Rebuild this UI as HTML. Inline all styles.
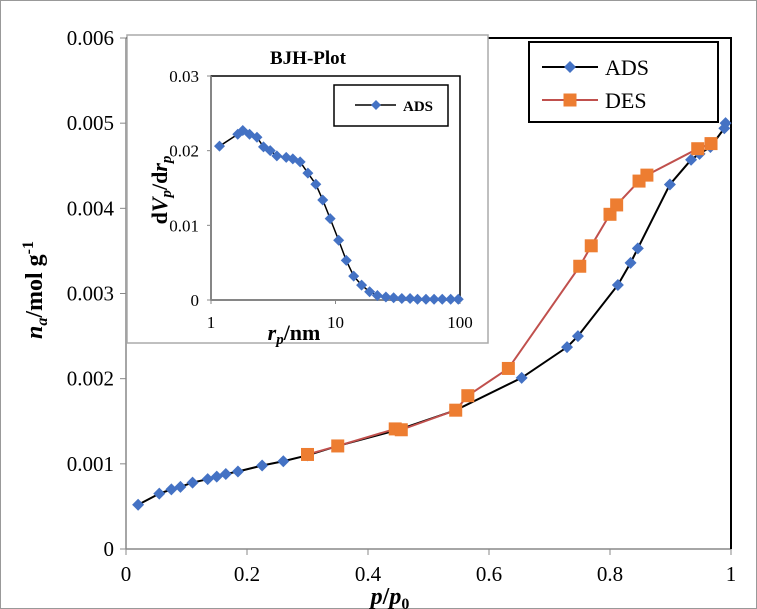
<!DOCTYPE html>
<html><head><meta charset="utf-8"><style>
html,body{margin:0;padding:0;background:#fff;}
svg{display:block;font-family:"Liberation Serif",serif;}
</style></head><body>
<svg id="chart" width="757" height="609">
<rect x="0.5" y="0.5" width="756" height="608" fill="#fff" stroke="#999"/>
<g id="main"></g>
<g id="inset"></g>
</svg>
<script>
const adsP=[0.02,0.055,0.075,0.09,0.11,0.135,0.15,0.165,0.185,0.225,0.26,0.30,0.35,0.45,0.545,0.654,0.729,0.747,0.813,0.834,0.846,0.899,0.934,0.948,0.966,0.989,0.991];
const adsN=[0.00052,0.00065,0.0007,0.00073,0.00078,0.00082,0.00085,0.00088,0.00091,0.00098,0.00103,0.0011,0.00121,0.0014,0.00163,0.00201,0.00237,0.0025,0.0031,0.00336,0.00353,0.00428,0.00457,0.00464,0.00472,0.00494,0.005];
const desP=[0.30,0.35,0.445,0.455,0.545,0.565,0.632,0.750,0.769,0.800,0.811,0.848,0.861,0.945,0.967];
const desN=[0.00111,0.00121,0.00141,0.0014,0.00163,0.0018,0.00212,0.00332,0.00356,0.00393,0.00404,0.00432,0.00439,0.0047,0.00476];
const xTicks=["0","0.2","0.4","0.6","0.8","1"];
const yTicks=["0","0.001","0.002","0.003","0.004","0.005","0.006"];
const bjhR=[1.17,1.64,1.80,2.04,2.34,2.64,2.99,3.38,4.02,4.54,5.20,6.0,6.95,7.9,9.06,10.6,12.2,14.0,16.2,18.8,21.7,25.4,29.3,34.1,39.7,45.6,53.3,61.9,72.0,84.2,96.8];
const bjhV=[0.0206,0.0222,0.0227,0.0222,0.0218,0.0205,0.0200,0.0193,0.0191,0.0189,0.0185,0.0170,0.0155,0.0134,0.0109,0.0080,0.0053,0.0032,0.0020,0.0011,0.0006,0.0004,0.0003,0.0002,0.0002,0.0001,0.0001,0.0001,0.0001,0.0001,0.0001];
const insetX=["1","10","100"];
const insetY=["0","0.01","0.02","0.03"];

const NS="http://www.w3.org/2000/svg";
function mk(parent,tag,attrs,text){const e=document.createElementNS(NS,tag);for(const k in attrs)e.setAttribute(k,attrs[k]);if(text!==undefined)e.textContent=text;parent.appendChild(e);return e;}
const main=document.getElementById('main'),ins=document.getElementById('inset');
const X0=126,X1=731,Y0=549,Y1=38;
const sx=p=>X0+p*(X1-X0), sy=n=>Y0-n/0.006*(Y0-Y1);
let e=mk(main,'line',{x1:X0,y1:Y0,x2:X1,y2:Y0,stroke:'#888','stroke-width':1.5});

e=mk(main,'line',{x1:X0,y1:Y0,x2:X0,y2:Y1,stroke:'#888','stroke-width':1.5});

e=mk(main,'polyline',{points:`${X0},${Y1} ${X1},${Y1} ${X1},${Y0}`,fill:'none',stroke:'#000','stroke-width':2});

xTicks.forEach((t,i)=>{const x=sx(+t);
 mk(main,'line',{x1:x,y1:Y0,x2:x,y2:Y0+6,stroke:'#888'});
 e=mk(main,'text',{x:x,y:Y0+32,'font-size':21,'text-anchor':'middle'},t);
 });
yTicks.forEach((t,i)=>{const y=sy(+t);
 mk(main,'line',{x1:X0-6,y1:y,x2:X0,y2:y,stroke:'#888'});
 e=mk(main,'text',{x:X0-12,y:y+7,'font-size':21,'text-anchor':'end'},t);
 });
e=mk(main,'text',{x:390,y:604,'font-size':24,'font-weight':'bold','text-anchor':'middle'});
e.innerHTML='<tspan font-style="italic">p</tspan>/<tspan font-style="italic">p</tspan><tspan font-size="16" dy="5">0</tspan>';

e=mk(main,'text',{x:0,y:0,'font-size':24,'font-weight':'bold','text-anchor':'middle',transform:'translate(42,290) rotate(-90)'});
e.innerHTML='<tspan font-style="italic">n</tspan><tspan font-style="italic" font-size="16" dy="5">a</tspan><tspan dy="-5">/mol g</tspan><tspan font-size="16" dy="-9">-1</tspan>';

function diamond(g,x,y,s,name){const el=mk(g,'polygon',{points:`${x},${y-s} ${x+s},${y} ${x},${y+s} ${x-s},${y}`,fill:'#4472c4'});
 }
function square(g,x,y,s,name){const el=mk(g,'rect',{x:x-s,y:y-s,width:2*s,height:2*s,fill:'#ed7d31'});
 }
e=mk(main,'polyline',{points:adsP.map((p,i)=>sx(p)+','+sy(adsN[i])).join(' '),fill:'none',stroke:'#000','stroke-width':2});

e=mk(main,'polyline',{points:desP.map((p,i)=>sx(p)+','+sy(desN[i])).join(' '),fill:'none',stroke:'#c0504d','stroke-width':2});

adsP.forEach((p,i)=>diamond(main,sx(p),sy(adsN[i]),6,'ads-point'));
desP.forEach((p,i)=>square(main,sx(p),sy(desN[i]),6.5,'des-point'));
e=mk(main,'rect',{x:529,y:42,width:189,height:80,fill:'#fff',stroke:'#000','stroke-width':2});

mk(main,'line',{x1:542,y1:67,x2:598,y2:67,stroke:'#000','stroke-width':2});
diamond(main,570,67,6,'legend-ads-marker');
e=mk(main,'text',{x:605,y:75,'font-size':22},'ADS');
mk(main,'line',{x1:542,y1:100,x2:598,y2:100,stroke:'#c0504d','stroke-width':2});
square(main,570,100,6.5,'legend-des-marker');
e=mk(main,'text',{x:605,y:108,'font-size':22},'DES');

e=mk(ins,'rect',{x:127,y:35,width:361,height:308,fill:'#fff',stroke:'#aaa','stroke-width':1.5});

const IX0=211,IX1=460,IY0=300,IY1=76;
const ix=r=>IX0+Math.log10(r)/2*(IX1-IX0), iy=v=>IY0-v/0.03*(IY0-IY1);
e=mk(ins,'rect',{x:IX0,y:IY1,width:IX1-IX0,height:IY0-IY1,fill:'none',stroke:'#000','stroke-width':1.5});

e=mk(ins,'line',{x1:IX0,y1:IY0,x2:IX1,y2:IY0,stroke:'#888','stroke-width':1.5});
e=mk(ins,'line',{x1:IX0,y1:IY0,x2:IX0,y2:IY1,stroke:'#888','stroke-width':1.5});
insetX.forEach(t=>{const x=ix(+t);mk(ins,'line',{x1:x,y1:IY0,x2:x,y2:IY0+4,stroke:'#888'});
 e=mk(ins,'text',{x:x,y:IY0+28,'font-size':17,'text-anchor':'middle'},t);});
insetY.forEach(t=>{const y=iy(+t);mk(ins,'line',{x1:IX0-4,y1:y,x2:IX0,y2:y,stroke:'#888'});
 e=mk(ins,'text',{x:IX0-12,y:y+6,'font-size':17,'text-anchor':'end'},t);});
e=mk(ins,'text',{x:308,y:64,'font-size':19,'font-weight':'bold','text-anchor':'middle'},'BJH-Plot');

e=mk(ins,'text',{x:294,y:340,'font-size':22,'font-weight':'bold','text-anchor':'middle'});
e.innerHTML='<tspan font-style="italic">r</tspan><tspan font-style="italic" font-size="15" dy="4">p</tspan><tspan dy="-4">/nm</tspan>';

e=mk(ins,'text',{x:0,y:0,'font-size':22,'font-weight':'bold','text-anchor':'middle',transform:'translate(167,190) rotate(-90)'});
e.innerHTML='d<tspan font-style="italic">V</tspan><tspan font-style="italic" font-size="15" dy="4">p</tspan><tspan dy="-4">/d</tspan><tspan font-style="italic">r</tspan><tspan font-style="italic" font-size="15" dy="4">p</tspan>';

e=mk(ins,'polyline',{points:bjhR.map((r,i)=>ix(r)+','+iy(bjhV[i])).join(' '),fill:'none',stroke:'#000','stroke-width':1.5});

bjhR.forEach((r,i)=>diamond(ins,ix(r),iy(bjhV[i]),5.5,'bjh-point'));
e=mk(ins,'rect',{x:334,y:85,width:114,height:41,fill:'#fff',stroke:'#000','stroke-width':1.5});

mk(ins,'line',{x1:355,y1:105,x2:396,y2:105,stroke:'#000','stroke-width':1.5});
diamond(ins,376,105,5,'inset-legend-marker');
e=mk(ins,'text',{x:403,y:111,'font-size':15,'font-weight':'bold'},'ADS');

</script>
</body></html>
